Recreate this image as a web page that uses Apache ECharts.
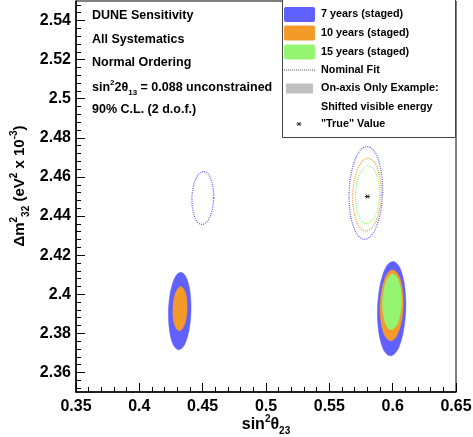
<!DOCTYPE html>
<html><head><meta charset="utf-8">
<script src="https://cdn.jsdelivr.net/npm/echarts@6/dist/echarts.min.js"></script>
<style>html,body{margin:0;padding:0;background:#fff}#c{width:473px;height:437px}</style>
</head><body><div id="c"></div>
<script>
// ---- axis ticks ----
const xTicks = [0.35, 0.4, 0.45, 0.5, 0.55, 0.6, 0.65];
const xMinorTicks = [0.36,0.37,0.38,0.39, 0.41,0.42,0.43,0.44, 0.46,0.47,0.48,0.49,
  0.51,0.52,0.53,0.54, 0.56,0.57,0.58,0.59, 0.61,0.62,0.63,0.64];
const yTicks = [2.36, 2.38, 2.4, 2.42, 2.44, 2.46, 2.48, 2.5, 2.52, 2.54];
const yMinorTicks = [2.352,2.356, 2.364,2.368,2.372,2.376, 2.384,2.388,2.392,2.396,
  2.404,2.408,2.412,2.416, 2.424,2.428,2.432,2.436, 2.444,2.448,2.452,2.456,
  2.464,2.468,2.472,2.476, 2.484,2.488,2.492,2.496, 2.504,2.508,2.512,2.516,
  2.524,2.528,2.532,2.536, 2.544,2.548];

// ---- legend / annotation text ----
const legendLabels = ['7 years (staged)', '10 years (staged)', '15 years (staged)', 'Nominal Fit',
  'On-axis Only Example:', 'Shifted visible energy', '"True" Value'];
const infoLines = ['DUNE Sensitivity', 'All Systematics', 'Normal Ordering',
  '{b|sin}{sup|2}{b|2θ}{sub|13}{b| = 0.088 unconstrained}', '90% C.L. (2 d.o.f.)'];

// ---- contours (sin^2 theta23, dm2_32) ----
// filled: shifted visible energy example
const shiftLow7 = [[0.4408,2.3914],[0.4404,2.3990],[0.4388,2.4054],[0.4360,2.4097],[0.4327,2.4112],[0.4292,2.4097],
  [0.4262,2.4054],[0.4240,2.3990],[0.4230,2.3914],[0.4234,2.3838],[0.4250,2.3774],[0.4278,2.3731],
  [0.4311,2.3716],[0.4346,2.3731],[0.4376,2.3774],[0.4398,2.3838]];
const shiftLow10 = [[0.4377,2.3926],[0.4375,2.3969],[0.4365,2.4006],[0.4347,2.4030],[0.4326,2.4039],[0.4305,2.4030],
  [0.4285,2.4006],[0.4271,2.3969],[0.4265,2.3926],[0.4267,2.3883],[0.4277,2.3846],[0.4295,2.3822],
  [0.4316,2.3813],[0.4337,2.3822],[0.4357,2.3846],[0.4371,2.3883]];
const shiftHigh7 = [[0.6104,2.3926],[0.6099,2.4018],[0.6078,2.4096],[0.6044,2.4149],[0.6002,2.4167],[0.5958,2.4149],
  [0.5920,2.4096],[0.5893,2.4018],[0.5880,2.3926],[0.5885,2.3834],[0.5906,2.3756],[0.5940,2.3703],
  [0.5982,2.3685],[0.6026,2.3703],[0.6064,2.3756],[0.6091,2.3834]];
const shiftHigh10 = [[0.6083,2.3943],[0.6079,2.4012],[0.6062,2.4071],[0.6034,2.4110],[0.6000,2.4124],[0.5964,2.4110],
  [0.5934,2.4071],[0.5911,2.4012],[0.5901,2.3943],[0.5905,2.3874],[0.5922,2.3815],[0.5950,2.3776],
  [0.5984,2.3762],[0.6020,2.3776],[0.6050,2.3815],[0.6073,2.3874]];
const shiftHigh15 = [[0.6070,2.3961],[0.6066,2.4015],[0.6052,2.4061],[0.6030,2.4092],[0.6001,2.4103],[0.5972,2.4092],
  [0.5946,2.4061],[0.5928,2.4015],[0.5920,2.3961],[0.5924,2.3907],[0.5938,2.3861],[0.5960,2.3830],
  [0.5989,2.3819],[0.6018,2.3830],[0.6044,2.3861],[0.6062,2.3907]];
// dotted: nominal fit
const nomHigh7 = [[0.5920,2.4518],[0.5914,2.4609],[0.5888,2.4686],[0.5848,2.4737],[0.5798,2.4755],[0.5746,2.4737],
  [0.5702,2.4686],[0.5670,2.4609],[0.5656,2.4518],[0.5662,2.4427],[0.5688,2.4350],[0.5728,2.4299],
  [0.5778,2.4281],[0.5830,2.4299],[0.5874,2.4350],[0.5906,2.4427]];
const nomHigh10 = [[0.5909,2.4509],[0.5903,2.4580],[0.5882,2.4641],[0.5847,2.4681],[0.5805,2.4695],[0.5761,2.4681],
  [0.5724,2.4641],[0.5697,2.4580],[0.5685,2.4509],[0.5691,2.4438],[0.5712,2.4377],[0.5747,2.4337],
  [0.5789,2.4323],[0.5833,2.4337],[0.5870,2.4377],[0.5897,2.4438]];
const nomHigh15 = [[0.5896,2.4509],[0.5891,2.4565],[0.5872,2.4613],[0.5843,2.4645],[0.5807,2.4656],[0.5771,2.4645],
  [0.5738,2.4613],[0.5715,2.4565],[0.5706,2.4509],[0.5711,2.4453],[0.5730,2.4405],[0.5759,2.4373],
  [0.5795,2.4362],[0.5831,2.4373],[0.5864,2.4405],[0.5887,2.4453]];
const nomLow7 = [[0.4587,2.4492],[0.4582,2.4544],[0.4566,2.4587],[0.4540,2.4617],[0.4507,2.4627],[0.4474,2.4617],
  [0.4444,2.4587],[0.4424,2.4544],[0.4415,2.4492],[0.4420,2.4440],[0.4436,2.4397],[0.4462,2.4367],
  [0.4495,2.4357],[0.4528,2.4367],[0.4558,2.4397],[0.4578,2.4440]];
const trueValue = [[0.58, 2.45]];

const C7 = '#6060ff', C10 = '#f39a28', C15 = '#95f573', CGRAY = '#c0c0c0';
const FONT = '"Liberation Sans", Arial, Helvetica, sans-serif';

function contourSeries(name, pts, color, filled) {
  return {
    type: 'custom', name: name, silent: true, data: pts,
    encode: {x: 0, y: 1},
    renderItem: function (params, api) {
      if (params.dataIndex !== 0) return null;
      const p = pts.map(d => api.coord(d));
      return filled
        ? {type: 'polygon', shape: {points: p, smooth: 0.35}, style: {fill: color, stroke: color, lineWidth: 0.5}}
        : {type: 'polygon', shape: {points: p, smooth: 0.35}, style: {fill: 'none', stroke: color, lineWidth: 1.3, lineDash: [1, 1.2]}};
    }
  };
}

function star(cx, cy, r, color) {
  return [
    {type: 'line', shape: {x1: cx - r, y1: cy, x2: cx + r, y2: cy}, style: {stroke: color, lineWidth: 1}},
    {type: 'line', shape: {x1: cx - r * 0.6, y1: cy - r * 0.8, x2: cx + r * 0.6, y2: cy + r * 0.8}, style: {stroke: color, lineWidth: 1}},
    {type: 'line', shape: {x1: cx + r * 0.6, y1: cy - r * 0.8, x2: cx - r * 0.6, y2: cy + r * 0.8}, style: {stroke: color, lineWidth: 1}}
  ];
}

const chart = echarts.init(document.getElementById('c'), null, {renderer: 'canvas'});

const richSmall = {
  b: {fontFamily: FONT, fontWeight: 'bold', fontSize: 12.5, lineHeight: 18, verticalAlign: 'middle'},
  sup: {fontFamily: FONT, fontWeight: 'bold', fontSize: 8, lineHeight: 18, verticalAlign: 'top'},
  sub: {fontFamily: FONT, fontWeight: 'bold', fontSize: 8, lineHeight: 18, verticalAlign: 'bottom'}
};

const graphics = [];
// info text block (top-left)
const infoY = [16, 40, 63, 88, 110];
infoLines.forEach((t, i) => {
  graphics.push({type: 'text', x: 92, y: infoY[i], z: 50,
    style: i === 3
      ? {text: t, rich: richSmall, fill: '#000', verticalAlign: 'middle', align: 'left'}
      : {text: t, font: 'bold 12.5px ' + FONT, fill: '#000', verticalAlign: 'middle', align: 'left'}});
});
// legend box
graphics.push({type: 'rect', z: 50, shape: {x: 282.5, y: -1, width: 173, height: 138.5},
  style: {fill: '#fff', stroke: '#444', lineWidth: 1}});
const legY = [14.5, 33, 52, 70, 88.5, 107, 124];
const swatch = [C7, C10, C15];
swatch.forEach((c, i) => {
  graphics.push({type: 'rect', z: 51, shape: {x: 284, y: legY[i] - 7.5, width: 31, height: 15, r: 2}, style: {fill: c}});
});
graphics.push({type: 'line', z: 51, shape: {x1: 284, y1: legY[3], x2: 315, y2: legY[3]},
  style: {stroke: '#555', lineWidth: 1, lineDash: [1, 1]}});
graphics.push({type: 'rect', z: 51, shape: {x: 286, y: legY[4] - 5, width: 27, height: 10}, style: {fill: CGRAY}});
star(299, legY[6], 2.5, '#333').forEach(g => { g.z = 51; graphics.push(g); });
legendLabels.forEach((t, i) => {
  graphics.push({type: 'text', z: 52, x: 321, y: legY[i],
    style: {text: t, font: 'bold 10.8px ' + FONT, fill: '#000', verticalAlign: 'middle', align: 'left'}});
});
// axis titles
graphics.push({type: 'text', z: 50, x: 266, y: 425,
  style: {text: '{b|sin}{sup|2}{b|θ}{sub|23}', align: 'center', verticalAlign: 'middle', fill: '#000',
    rich: {
      b: {fontFamily: FONT, fontWeight: 'bold', fontSize: 16, lineHeight: 22, verticalAlign: 'middle'},
      sup: {fontFamily: FONT, fontWeight: 'bold', fontSize: 10, lineHeight: 22, verticalAlign: 'top'},
      sub: {fontFamily: FONT, fontWeight: 'bold', fontSize: 10, lineHeight: 22, verticalAlign: 'bottom'}
    }}});
graphics.push({type: 'text', z: 50, x: 20, y: 186, rotation: Math.PI / 2,
  style: {text: '{b|Δm}{sup|2}{sub|32}{b| (eV}{sup|2}{b| x 10}{sup|-3}{b|)}', align: 'center', verticalAlign: 'middle', fill: '#000',
    rich: {
      b: {fontFamily: FONT, fontWeight: 'bold', fontSize: 15, lineHeight: 22, verticalAlign: 'middle'},
      sup: {fontFamily: FONT, fontWeight: 'bold', fontSize: 10, lineHeight: 22, verticalAlign: 'top'},
      sub: {fontFamily: FONT, fontWeight: 'bold', fontSize: 10, lineHeight: 22, verticalAlign: 'bottom'}
    }}});

const axisFont = {fontFamily: FONT, fontWeight: 'bold', fontSize: 16, color: '#000'};

chart.setOption({
  animation: false,
  backgroundColor: '#fff',
  grid: {left: 76, right: 17, top: 1, bottom: 45, show: true, borderColor: '#000', borderWidth: 1, outerBoundsMode: 'none'},
  xAxis: [
    {type: 'value', min: 0.35, max: 0.65, splitLine: {show: false},
      axisLine: {show: true, onZero: false, lineStyle: {color: '#000', width: 1.5}},
      axisTick: {show: true, inside: true, length: 9, customValues: xTicks, lineStyle: {color: '#000', width: 1}},
      axisLabel: Object.assign({customValues: xTicks, margin: 7, showMinLabel: true, showMaxLabel: true}, axisFont)},
    {type: 'value', min: 0.35, max: 0.65, position: 'bottom', splitLine: {show: false},
      axisLine: {show: false, onZero: false},
      axisTick: {show: true, inside: true, length: 5, customValues: xMinorTicks, lineStyle: {color: '#000', width: 1}},
      axisLabel: {show: false}}
  ],
  yAxis: [
    {type: 'value', min: 2.35, max: 2.55, splitLine: {show: false},
      axisLine: {show: true, onZero: false, lineStyle: {color: '#000', width: 1.5}},
      axisTick: {show: true, inside: true, length: 9, customValues: yTicks, lineStyle: {color: '#000', width: 1}},
      axisLabel: Object.assign({customValues: yTicks, margin: 5}, axisFont)},
    {type: 'value', min: 2.35, max: 2.55, position: 'left', splitLine: {show: false},
      axisLine: {show: false, onZero: false},
      axisTick: {show: true, inside: true, length: 5, customValues: yMinorTicks, lineStyle: {color: '#000', width: 1}},
      axisLabel: {show: false}}
  ],
  series: [
    contourSeries('7 years (staged)', shiftLow7, C7, true),
    contourSeries('10 years (staged)', shiftLow10, C10, true),
    contourSeries('7 years (staged)', shiftHigh7, C7, true),
    contourSeries('10 years (staged)', shiftHigh10, C10, true),
    contourSeries('15 years (staged)', shiftHigh15, C15, true),
    contourSeries('Nominal Fit 7', nomHigh7, C7, false),
    contourSeries('Nominal Fit 10', nomHigh10, C10, false),
    contourSeries('Nominal Fit 15', nomHigh15, C15, false),
    contourSeries('Nominal Fit 7 low', nomLow7, C7, false),
    {type: 'custom', name: '"True" Value', silent: true, data: trueValue, encode: {x: 0, y: 1},
      renderItem: function (params, api) {
        const p = api.coord(trueValue[params.dataIndex]);
        return {type: 'group', children: star(p[0], p[1], 2.5, '#222')};
      }}
  ],
  graphic: graphics
});
</script></body></html>
